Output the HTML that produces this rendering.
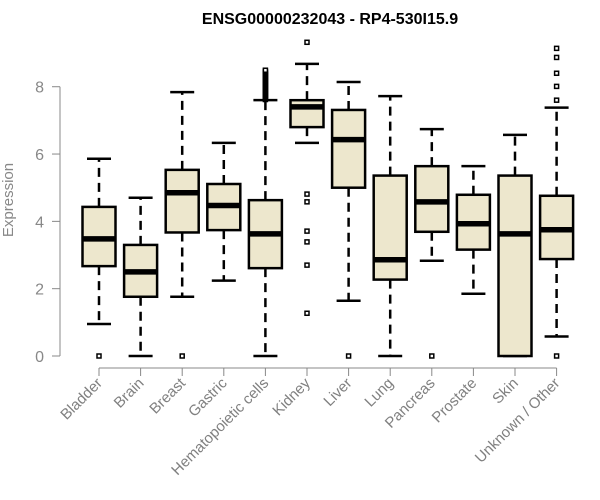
<!DOCTYPE html>
<html><head><meta charset="utf-8"><style>
body{margin:0;background:#fff}
svg{display:block;font-family:"Liberation Sans",Arial,sans-serif}
</style></head><body>
<svg id="chart" width="600" height="500">
<text x="330" y="24" text-anchor="middle" font-weight="bold" font-size="16" fill="#000">ENSG00000232043 - RP4-530I15.9</text>
<text transform="translate(13,200) rotate(-90)" text-anchor="middle" font-size="15" fill="#888">Expression</text>
<g id="yaxis"></g>
<g id="xaxis"></g>
<g id="boxes"></g>
</svg>
<script>
const categories=["Bladder","Brain","Breast","Gastric","Hematopoietic cells","Kidney","Liver","Lung","Pancreas","Prostate","Skin","Unknown / Other"];
const whiskerLow=[0.95,0,1.76,2.24,0,6.33,1.64,0,2.83,1.85,0,0.58];
const q1=[2.67,1.76,3.67,3.74,2.61,6.8,5.0,2.27,3.69,3.16,0,2.88];
const medians=[3.48,2.5,4.85,4.47,3.63,7.4,6.43,2.86,4.58,3.93,3.63,3.75];
const q3=[4.43,3.3,5.53,5.11,4.63,7.6,7.31,5.36,5.64,4.79,5.36,4.76];
const whiskerHigh=[5.86,4.7,7.84,6.33,7.6,8.68,8.14,7.72,6.74,5.64,6.57,7.38];
const outliers=[[0],[],[0],[],[7.62,7.65,7.68,7.71,7.74,7.77,7.8,7.83,7.86,7.89,7.92,7.95,7.98,8.01,8.04,8.07,8.1,8.13,8.16,8.19,8.22,8.25,8.28,8.31,8.34,8.37,8.4,8.43,8.46,8.49],[9.32,4.81,4.58,3.71,3.39,2.7,1.27],[0],[],[0],[],[],[0,7.6,8.01,8.4,8.87,9.14]];
const yTicks=[0,2,4,6,8];
const NS="http://www.w3.org/2000/svg";
const y=v=>356-v*33.66;
const x=i=>99+i*41.6;
function mk(tag,attrs,parent){const e=document.createElementNS(NS,tag);for(const k in attrs)e.setAttribute(k,attrs[k]);parent.appendChild(e);return e;}
const ya=document.getElementById('yaxis'),xa=document.getElementById('xaxis'),bx=document.getElementById('boxes');
mk('line',{x1:60,x2:60,y1:y(0),y2:y(8),stroke:'#888'},ya);
yTicks.forEach(t=>{
 mk('line',{x1:52,x2:60,y1:y(t),y2:y(t),stroke:'#888'},ya);
 const tx=mk('text',{x:44,y:y(t)+6,'text-anchor':'end','font-size':16,fill:'#888'},ya);
 tx.textContent=t;
 
 
});
mk('line',{x1:x(0),x2:x(11),y1:368,y2:368,stroke:'#888'},xa);
categories.forEach((c,i)=>{
 mk('line',{x1:x(i),x2:x(i),y1:368,y2:376,stroke:'#888'},xa);
 const tx=mk('text',{transform:`translate(${x(i)+4},384) rotate(-45)`,'text-anchor':'end','font-size':15,fill:'#808080'},xa);
 tx.textContent=c;
 
 
 const g=mk('g',{},bx);
 
 
 const cx=x(i);
 mk('line',{x1:cx,x2:cx,y1:y(q3[i]),y2:y(whiskerHigh[i]),stroke:'#000','stroke-width':2.5,'stroke-dasharray':'9,6'},g);
 mk('line',{x1:cx,x2:cx,y1:y(q1[i]),y2:y(whiskerLow[i]),stroke:'#000','stroke-width':2.5,'stroke-dasharray':'9,6'},g);
 mk('line',{x1:cx-12,x2:cx+12,y1:y(whiskerHigh[i]),y2:y(whiskerHigh[i]),stroke:'#000','stroke-width':2.5},g);
 mk('line',{x1:cx-12,x2:cx+12,y1:y(whiskerLow[i]),y2:y(whiskerLow[i]),stroke:'#000','stroke-width':2.5},g);
 mk('rect',{x:cx-16.5,y:y(q3[i]),width:33,height:y(q1[i])-y(q3[i]),fill:'#ede7cd',stroke:'#000','stroke-width':2.5},g);
 mk('line',{x1:cx-16.5,x2:cx+16.5,y1:y(medians[i]),y2:y(medians[i]),stroke:'#000','stroke-width':5.5},g);
 outliers[i].forEach(v=>{
  const r=mk('rect',{x:cx-2,y:y(v)-2,width:4,height:4,fill:'#fff',stroke:'#000','stroke-width':1.5},g);
  
  
 });
});
</script>
</body></html>
